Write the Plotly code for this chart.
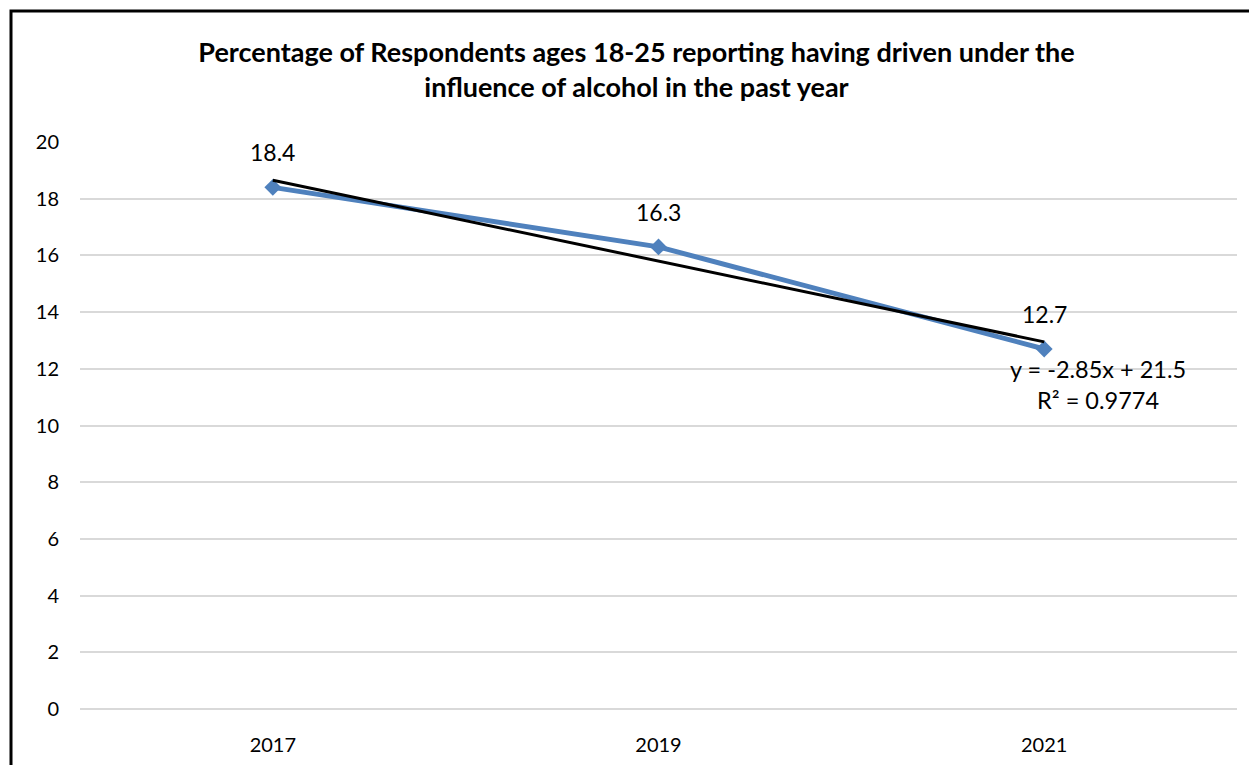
import numpy as np
import plotly.graph_objects as go

# ---- data ----
years = ["2017", "2019", "2021"]
values = [18.4, 16.3, 12.7]
y_ticks = [0, 2, 4, 6, 8, 10, 12, 14, 16, 18, 20]
title_text = ("Percentage of Respondents ages 18-25 reporting having driven under the<br>"
              "influence of alcohol in the past year")

# ---- linear trendline (Excel-style, x = 1..n) ----
xi = np.arange(1, len(values) + 1)
slope, intercept = np.polyfit(xi, values, 1)
trend = slope * xi + intercept
ss_res = float(np.sum((np.array(values) - trend) ** 2))
ss_tot = float(np.sum((np.array(values) - np.mean(values)) ** 2))
r2 = 1 - ss_res / ss_tot
sign = "+" if intercept >= 0 else "-"
eq_text = f"y = {slope:.2f}x {sign} {abs(intercept):.1f}<br>R² = {r2:.4f}"

FONT = "Lato, Carlito, Calibri, sans-serif"
BLUE = "#4F81BD"

fig = go.Figure()
fig.add_trace(go.Scatter(
    x=years, y=values, mode="lines+markers",
    line=dict(color=BLUE, width=5),
    marker=dict(symbol="diamond", size=13, color=BLUE),
    hoverinfo="skip", showlegend=False,
))
fig.add_trace(go.Scatter(
    x=years, y=trend.tolist(), mode="lines",
    line=dict(color="black", width=3),
    hoverinfo="skip", showlegend=False,
))

annotations = []
for i, v in enumerate(values):
    annotations.append(dict(
        x=i, y=v, xref="x", yref="y", text=f"{v:.1f}", showarrow=False,
        yshift=35, font=dict(family=FONT, size=23, color="black"),
    ))
annotations.append(dict(
    x=len(values) - 1, y=11.46, xref="x", yref="y", text=eq_text, showarrow=False,
    xshift=54, xanchor="center", yanchor="middle",
    font=dict(family=FONT, size=23.5, color="black"),
))

# page has an 8px body margin, so figure pixels = reference pixels - 8
W, H = 1257, 765
L, R, T, B = 72, 28, 134, 64
pw, ph = W - L - R, H - T - B

def px_x(px):
    return (px - L) / pw

def px_y(py):
    return (H - B - py) / ph

fig.update_layout(
    width=W, height=H,
    margin=dict(l=L, r=R, t=T, b=B, autoexpand=False),
    paper_bgcolor="white", plot_bgcolor="white",
    title=dict(text=title_text, x=0.5, xref="container", xanchor="center",
               y=1 - 54 / H, yref="container", yanchor="middle",
               font=dict(family=FONT, size=27, color="black", weight="bold")),
    xaxis=dict(type="category", range=[-0.5, 2.5], showgrid=False,
               showline=False, ticks="", zeroline=False,
               tickfont=dict(family=FONT, size=20, color="black"), ticklabelstandoff=22),
    yaxis=dict(range=[0, 20], tickvals=y_ticks, showgrid=True,
               gridcolor="#D9D9D9", gridwidth=2, zeroline=True,
               zerolinecolor="#D9D9D9", zerolinewidth=2, showline=False,
               ticks="", tickfont=dict(family=FONT, size=20, color="black"),
               ticklabelstandoff=20),
    annotations=annotations,
    shapes=[dict(type="path", xref="paper", yref="paper",
                 path=f"M {px_x(3)} {px_y(780)} L {px_x(3)} {px_y(3)} L {px_x(1270)} {px_y(3)}",
                 line=dict(color="black", width=3))],
)

fig.write_html("out.html")
